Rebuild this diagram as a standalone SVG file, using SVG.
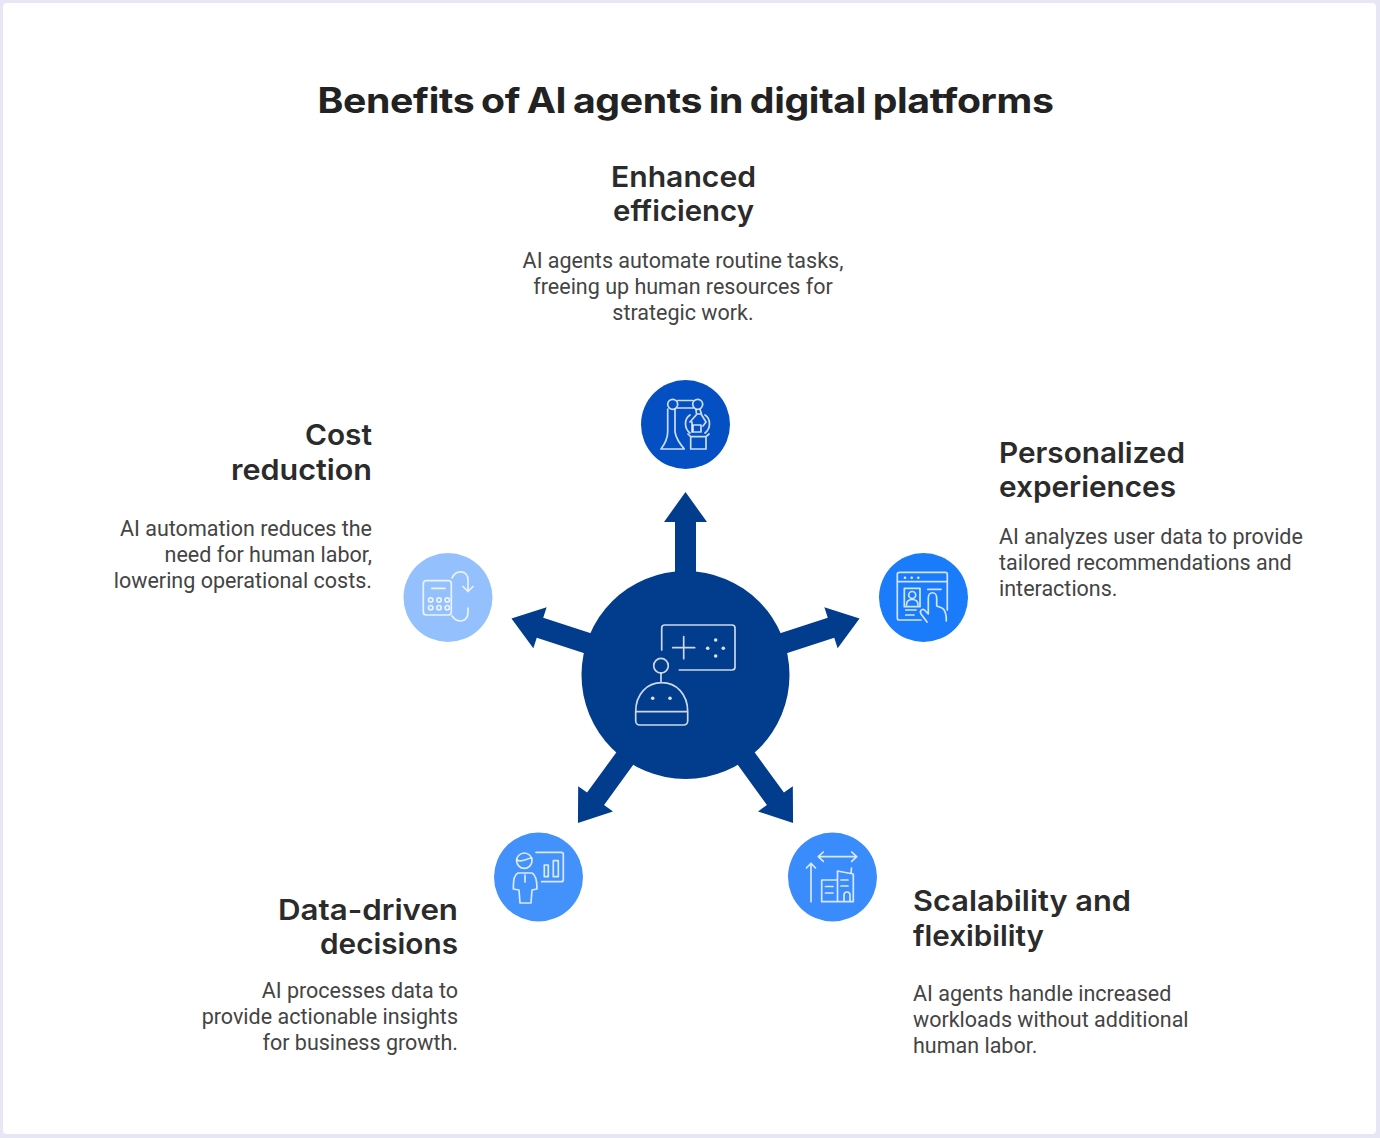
<svg xmlns="http://www.w3.org/2000/svg" width="1380" height="1138" viewBox="0 0 1380 1138">
<style>
text{font-family:"Inter","Liberation Sans",sans-serif;font-variant-ligatures:none}
.t{font-size:35px;font-weight:700;fill:#222;letter-spacing:-.3px;word-spacing:-2px}
.h{font-size:29px;font-weight:600;fill:#2b2b2b}
.b{font-family:"Roboto","Liberation Sans",sans-serif;font-size:21.5px;font-weight:400;fill:#444}
.m{text-anchor:middle}.e{text-anchor:end}
.i{fill:none;stroke:#fff;stroke-width:1.7;stroke-linecap:round;stroke-linejoin:round;opacity:.8}
.d{fill:#fff;opacity:.85}
</style>
<defs><path id="arrow" d="M-10.500 -90L-10.500 -153L-21.500 -153L0 -183L21.500 -153L10.500 -153L10.500 -90Z" fill="#023C8D"/></defs>
<rect width="1380" height="1138" fill="#E6E6F4"/>
<rect x="3" y="3" width="1373" height="1131" rx="4" fill="#fff"/>
<text class="t m" x="685.500" y="113" textLength="736" lengthAdjust="spacingAndGlyphs">Benefits of AI agents in digital platforms</text>
<g id="connectors">
<use href="#arrow" transform="translate(685.500 675)"/>
<use href="#arrow" transform="translate(685.500 675) rotate(72)"/>
<use href="#arrow" transform="translate(685.500 675) rotate(144)"/>
<use href="#arrow" transform="translate(685.500 675) rotate(216)"/>
<use href="#arrow" transform="translate(685.500 675) rotate(288)"/>
</g>
<g id="hub">
<circle cx="685.500" cy="675" r="104" fill="#023C8D"/>
<path class="i" d="M661.700 650V628a3 3 0 0 1 3-3H732a3 3 0 0 1 3 3v39a3 3 0 0 1-3 3H679.300M672.700 647.700H694.700M683.700 636.700V658.700"/>
<circle class="i" cx="661" cy="665.700" r="7.300"/>
<path class="i" d="M661 673V682.700M635.700 711.700C635.700 694 647 682.700 661.700 682.700S687.700 694 687.700 711.700V721a4 4 0 0 1-4 4H639.700a4 4 0 0 1-4-4ZM635.700 711.700H687.700"/>
<circle class="d" cx="715.700" cy="640" r="1.800"/><circle class="d" cx="707.700" cy="648.300" r="1.800"/><circle class="d" cx="723.300" cy="648.300" r="1.800"/><circle class="d" cx="715.700" cy="656" r="1.800"/>
<circle class="d" cx="652.700" cy="698.300" r="1.800"/><circle class="d" cx="670" cy="698.300" r="1.800"/>
</g>
<g id="node-efficiency">
<circle cx="685.500" cy="424.500" r="44.500" fill="#0450C2"/>
<path class="i" d="M667.700 409V432C667.700 440 664 445 661 449H684.300C680 444 676 438 675 432V409M677.500 400.500H693M677.500 408H693"/>
<circle class="i" cx="672.700" cy="404.300" r="5"/><circle class="i" cx="697.700" cy="404.300" r="5"/>
<path class="i" d="M696 409.500L696.500 414M700 409.500L701.500 414M690 415C684 419 684 428 690 433M705 415C711 419 711 428 705 433M690 422L697 414H701L706 422L703 426M692 422V432"/>
<rect class="i" x="693" y="425" width="8" height="7"/>
<path class="i" d="M690.700 436.700H706V449H690.700ZM688 434L690.700 436.700M709 434L706 436.700"/>
</g>
<g id="node-personalized">
<circle cx="923.500" cy="597.500" r="44.500" fill="#1A7BFB"/>
<path class="i" d="M921 620H899.300a2 2 0 0 1-2-2V574.300a2 2 0 0 1 2-2H945.300a2 2 0 0 1 2 2V610M897.300 581.700H947.300M904.300 588.300H920V606.700H904.300ZM927.700 589.300H941M905.700 610H916M905.700 615H914"/>
<circle class="i" cx="912.200" cy="595" r="3.500"/>
<path class="i" d="M906.500 605C906.500 600.500 909 599.500 912.200 599.500S918 600.500 918 605"/>
<path class="i" d="M927 622L921 614C919 610 923 608 925.500 611L928.300 614V598C928.300 591 936.700 591 936.700 598V606L942 608C945 609 946.700 616 946.300 621"/>
<circle class="d" cx="905" cy="577.700" r="1.300"/><circle class="d" cx="911.700" cy="577.700" r="1.300"/><circle class="d" cx="918.300" cy="577.700" r="1.300"/>
</g>
<g id="node-scalability">
<circle cx="832.500" cy="877" r="44.500" fill="#3A8BFB"/>
<path class="i" d="M818.300 856.700H856.700M823.300 852L818.300 856.700L823.300 861.400M851.700 852L856.700 856.700L851.700 861.400M811 901.700V863.300M806.500 868L811 863.300L815.500 868"/>
<path class="i" d="M837.500 880H821.700V901.700H853.300V874L837.500 871V901.700M825.500 886.500H833M825.500 893H833M841 880H848M841 886H848M844 901.700V895a3 3 0 0 1 6 0V901.700M851 873L851.500 868"/>
</g>
<g id="node-data">
<circle cx="538.500" cy="877" r="44.500" fill="#4391FB"/>
<circle class="i" cx="524.300" cy="860.700" r="7.700"/>
<path class="i" d="M516.800 860C522 863 527 858 531.800 858M536 852.300H561.300a2 2 0 0 1 2 2V879.700a2 2 0 0 1-2 2H541.700M544.300 865H548.300V876.700H544.300ZM553.300 860.700H558.300V876.700H553.300Z"/>
<path class="i" d="M518 873C514 875 513.500 879 513.300 889L519 890L520 903H531L532 890L537 889C537 880 536 875 532 873ZM525 875V882"/>
</g>
<g id="node-cost">
<circle cx="448" cy="597.500" r="44.500" fill="#94C1FD"/>
<rect class="i" x="423.300" y="580.700" width="28" height="34.300" rx="3"/>
<path class="i" d="M431.700 588.300H445M452 578C456 569 468 570 468 580V591.500M463 586.500L468 591.500L473 586.500M452 616C458 624 468 622 468 612V608"/>
<circle class="i" cx="430.700" cy="600" r="2.200"/><circle class="i" cx="439" cy="600" r="2.200"/><circle class="i" cx="447.300" cy="600" r="2.200"/>
<circle class="i" cx="430.700" cy="607.700" r="2.200"/><circle class="i" cx="439" cy="607.700" r="2.200"/><circle class="i" cx="447.300" cy="607.700" r="2.200"/>
</g>
<g id="label-efficiency">
<text class="h m" x="683.500" y="187" textLength="145" lengthAdjust="spacingAndGlyphs">Enhanced</text><text class="h m" x="683.500" y="221" textLength="141" lengthAdjust="spacingAndGlyphs">efficiency</text>
<text class="b m" x="683" y="268">AI agents automate routine tasks,</text><text class="b m" x="683" y="294">freeing up human resources for</text><text class="b m" x="683" y="320">strategic work.</text>
</g>
<g id="label-personalized">
<text class="h" x="999" y="463" textLength="186" lengthAdjust="spacingAndGlyphs">Personalized</text><text class="h" x="999" y="497" textLength="177" lengthAdjust="spacingAndGlyphs">experiences</text>
<text class="b" x="999" y="544">AI analyzes user data to provide</text><text class="b" x="999" y="570">tailored recommendations and</text><text class="b" x="999" y="596">interactions.</text>
</g>
<g id="label-scalability">
<text class="h" x="913" y="911" textLength="218" lengthAdjust="spacingAndGlyphs">Scalability and</text><text class="h" x="913" y="946" textLength="131" lengthAdjust="spacingAndGlyphs">flexibility</text>
<text class="b" x="913" y="1001">AI agents handle increased</text><text class="b" x="913" y="1027">workloads without additional</text><text class="b" x="913" y="1053">human labor.</text>
</g>
<g id="label-data">
<text class="h e" x="458" y="920" textLength="180" lengthAdjust="spacingAndGlyphs">Data-driven</text><text class="h e" x="458" y="954" textLength="138" lengthAdjust="spacingAndGlyphs">decisions</text>
<text class="b e" x="458" y="998">AI processes data to</text><text class="b e" x="458" y="1024">provide actionable insights</text><text class="b e" x="458" y="1050">for business growth.</text>
</g>
<g id="label-cost">
<text class="h e" x="372" y="445" textLength="67" lengthAdjust="spacingAndGlyphs">Cost</text><text class="h e" x="372" y="480" textLength="141" lengthAdjust="spacingAndGlyphs">reduction</text>
<text class="b e" x="372" y="536">AI automation reduces the</text><text class="b e" x="372" y="562">need for human labor,</text><text class="b e" x="372" y="588">lowering operational costs.</text>
</g>
</svg>
